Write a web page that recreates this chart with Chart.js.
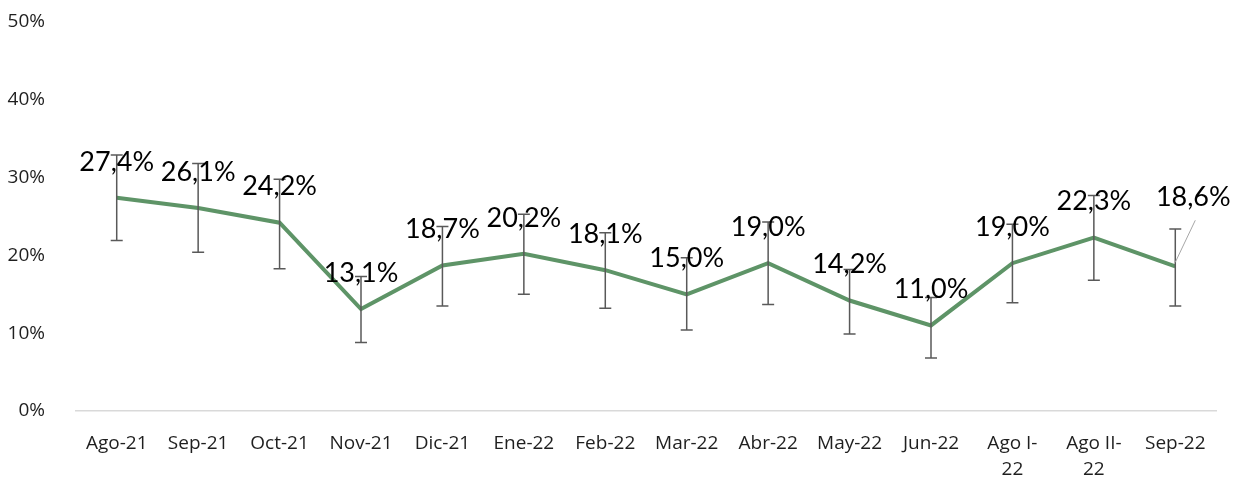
<!DOCTYPE html>
<html>
<head>
<meta charset="utf-8">
<script src="https://cdn.jsdelivr.net/npm/chart.js@4/dist/chart.umd.min.js"></script>
<style>
  html, body { margin: 0; padding: 0; background: #fff; }
  #wrap { width: 1235px; height: 481px; }
</style>
</head>
<body>
<div id="wrap"><canvas id="grafico"></canvas></div>
<script>
// Datos
var categories = ['Ago-21', 'Sep-21', 'Oct-21', 'Nov-21', 'Dic-21', 'Ene-22', 'Feb-22',
                  'Mar-22', 'Abr-22', 'May-22', 'Jun-22', ['Ago I-', '22'], ['Ago II-', '22'], 'Sep-22'];
var values = [27.4, 26.1, 24.2, 13.1, 18.7, 20.2, 18.1, 15.0, 19.0, 14.2, 11.0, 19.0, 22.3, 18.6];
var errUpper = [32.9, 31.8, 29.8, 17.3, 23.7, 25.3, 22.9, 19.7, 24.3, 18.2, 14.6, 24.0, 27.7, 23.4];
var errLower = [21.9, 20.4, 18.3, 8.8, 13.5, 15.0, 13.2, 10.4, 13.7, 9.9, 6.8, 13.9, 16.8, 13.5];
var yTicks = [0, 10, 20, 30, 40, 50];

// Barras de error
var errorBarsPlugin = {
    id: 'errorBars',
    afterDatasetsDraw: function(chart) {
        var ctx = chart.ctx;
        var x = chart.scales.x, y = chart.scales.y;
        ctx.save();
        ctx.strokeStyle = '#595959';
        ctx.lineWidth = 1.5;
        for (var i = 0; i < values.length; i++) {
            var px = x.getPixelForValue(i);
            var top = y.getPixelForValue(errUpper[i]);
            var bot = y.getPixelForValue(errLower[i]);
            ctx.beginPath();
            ctx.moveTo(px, top); ctx.lineTo(px, bot);
            ctx.moveTo(px - 6, top); ctx.lineTo(px + 6, top);
            ctx.moveTo(px - 6, bot); ctx.lineTo(px + 6, bot);
            ctx.stroke();
        }
        ctx.restore();
    }
};

// Etiquetas de datos
var labelsPlugin = {
    id: 'dataLabels',
    afterDatasetsDraw: function(chart) {
        var ctx = chart.ctx;
        var meta = chart.getDatasetMeta(0);
        ctx.save();
        ctx.font = '27px Lato';
        ctx.fillStyle = '#000';
        ctx.textAlign = 'center';
        ctx.textBaseline = 'middle';
        meta.data.forEach(function(pt, i) {
            var txt = values[i].toFixed(1).replace('.', ',') + '%';
            var lx = pt.x, ly = pt.y - 36;
            if (i === values.length - 1) {
                lx = pt.x + 18; ly = pt.y - 69;
                ctx.strokeStyle = '#a6a6a6';
                ctx.lineWidth = 1;
                ctx.beginPath();
                ctx.moveTo(pt.x, pt.y - 4);
                ctx.lineTo(pt.x + 20, pt.y - 46);
                ctx.stroke();
            }
            ctx.fillText(txt, lx, ly);
        });
        ctx.restore();
    }
};

new Chart(document.getElementById('grafico').getContext('2d'), {
    type: 'line',
    data: {
        labels: categories,
        datasets: [{
            data: values,
            borderColor: '#5e9467',
            borderWidth: 4,
            pointRadius: 0,
            fill: false,
            tension: 0
        }]
    },
    options: {
        responsive: true,
        maintainAspectRatio: false,
        animation: false,
        layout: { padding: { left: 0, right: 19, top: 22, bottom: 0 } },
        plugins: {
            legend: { display: false },
            tooltip: { enabled: false }
        },
        scales: {
            x: {
                offset: true,
                grid: { display: false },
                border: { display: true, color: '#d9d9d9', width: 1.5 },
                ticks: {
                    color: '#1f1f1f',
                    font: { family: 'Open Sans', size: 19, lineHeight: 1.35 },
                    maxRotation: 0,
                    autoSkip: false,
                    padding: 12
                },
                afterFit: function(scale) { scale.height = 70; }
            },
            y: {
                min: 0,
                max: 50,
                afterBuildTicks: function(scale) {
                    scale.ticks = yTicks.map(function(v) { return { value: v }; });
                },
                grid: { display: false },
                border: { display: false },
                ticks: {
                    color: '#1f1f1f',
                    font: { family: 'Open Sans', size: 19 },
                    padding: 23,
                    callback: function(v) { return v + '%'; }
                },
                afterFit: function(scale) {
                    scale.width = 76;
                    scale.paddingTop = 0;
                    scale.paddingBottom = 0;
                }
            }
        }
    },
    plugins: [errorBarsPlugin, labelsPlugin]
});
</script>
</body>
</html>
